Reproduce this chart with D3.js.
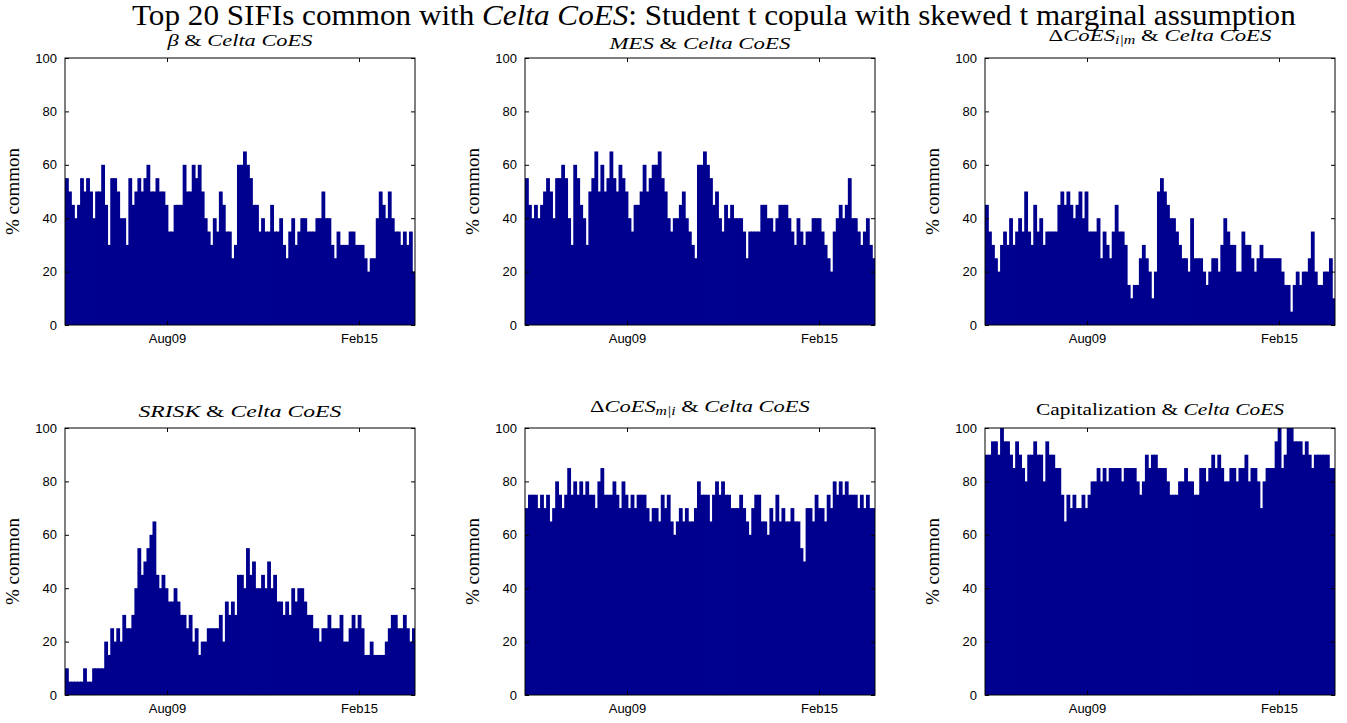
<!DOCTYPE html>
<html><head><meta charset="utf-8">
<script src="https://cdn.jsdelivr.net/npm/d3@7"></script>
<style>body{margin:0;background:#fff}svg{display:block}</style>
</head><body>
<svg id="c" width="1347" height="723"></svg>
<script>
// ---- data (% of top-20 SIFIs in common with Celta CoES) ----
const betaVals = [55,50,45,40,45,55,50,55,50,40,50,50,60,45,30,55,55,50,40,40,30,55,45,50,55,50,55,60,50,50,55,50,50,45,35,35,45,45,45,60,50,50,60,55,60,50,40,35,30,40,35,50,45,35,35,25,30,60,
 60,65,60,55,45,45,35,40,35,35,45,35,35,40,30,25,35,40,30,35,40,40,35,35,35,40,40,50,40,40,30,25,35,30,30,30,35,35,30,30,30,25,20,25,25,40,50,45,40,50,40,35,35,30,35,30,35,20];
const mesVals = [55,45,40,45,40,45,50,55,50,40,55,55,60,55,40,30,60,55,45,40,30,50,55,65,50,60,50,55,65,55,50,60,55,50,40,35,45,45,50,60,50,55,60,60,65,55,50,40,35,40,40,45,50,40,35,30,25,60,
 60,65,60,55,45,50,40,35,45,40,45,40,40,40,35,25,35,35,35,35,45,45,40,40,35,40,45,45,45,40,35,30,40,35,30,35,35,40,40,40,35,30,25,20,35,40,45,40,45,55,40,40,35,30,35,40,30,25];
const dcoesImVals = [45,35,30,25,20,30,35,30,40,30,35,40,35,50,35,30,45,35,40,30,35,35,35,35,45,50,45,50,45,40,45,50,40,50,35,35,35,40,25,35,30,25,35,45,35,35,30,15,10,15,15,25,30,25,20,10,20,50,
 55,50,45,40,40,35,30,25,25,20,40,25,25,25,20,15,20,25,25,20,30,40,35,30,30,20,20,35,30,30,25,20,25,30,25,25,25,25,25,25,20,15,15,5,15,20,15,20,20,25,35,20,15,15,20,20,25,10];
const sriskVals = [10,5,5,5,5,5,10,5,5,10,10,10,10,20,15,25,20,25,20,30,25,25,30,40,55,45,50,55,60,65,45,40,45,40,35,35,40,35,30,30,25,30,20,25,15,20,20,25,25,25,25,30,20,35,30,35,30,45,
 45,40,55,45,50,40,40,45,40,50,40,45,35,35,30,35,30,40,35,40,40,35,30,30,25,25,20,25,25,30,25,25,25,30,20,20,25,30,25,30,25,15,15,20,15,15,15,15,20,25,30,30,25,25,30,25,20,25];
const dcoesMiVals = [70,75,75,75,70,75,70,75,65,70,80,75,70,75,85,75,80,75,80,75,80,75,75,70,80,85,75,75,75,80,75,70,80,75,70,75,70,75,75,75,70,65,70,70,65,75,70,75,65,60,65,70,65,70,65,65,70,80,
 75,75,75,65,75,80,75,80,75,75,70,70,70,75,70,65,60,70,75,75,65,65,60,70,65,75,65,70,65,65,70,65,65,55,50,70,70,65,75,70,70,65,75,70,80,75,80,75,80,75,75,75,70,75,70,75,70,70];
const capVals = [90,90,95,95,90,100,95,95,90,85,95,90,85,80,90,90,95,90,90,80,95,90,90,85,85,75,65,75,70,75,70,70,75,70,75,80,80,85,80,85,80,85,85,85,85,80,85,85,85,85,80,75,80,90,85,90,90,85,
 85,85,80,75,75,75,80,80,85,80,80,75,75,85,85,80,85,90,85,90,85,80,80,85,85,80,85,85,90,80,85,85,80,70,80,85,85,85,95,100,85,90,100,100,95,95,95,90,95,90,85,90,90,90,90,90,85,85];

const yTicks = [0,20,40,60,80,100];
const xTickDates = [new Date(2009,7,1), new Date(2015,1,1)];
const xTickLabels = ["Aug09","Feb15"];
const timeDomain = [new Date(2006,7,29), new Date(2016,8,9)];

const mainTitle = [{t:"Top 20 SIFIs common with "},{t:"Celta CoES",i:1},{t:": Student t copula with skewed t marginal assumption"}];
const panels = [
  {vals:betaVals, title:[{t:"β",i:1},{t:" & "},{t:"Celta CoES",i:1}], ty:46, tw:145},
  {vals:mesVals, title:[{t:"MES",i:1},{t:" & "},{t:"Celta CoES",i:1}], ty:49, tw:181},
  {vals:dcoesImVals, title:[{t:"Δ"},{t:"CoES",i:1},{t:"i|m",i:1,sub:1},{t:" & "},{t:"Celta CoES",i:1}], ty:41, tw:223},
  {vals:sriskVals, title:[{t:"SRISK",i:1},{t:" & "},{t:"Celta CoES",i:1}], ty:417, tw:203},
  {vals:dcoesMiVals, title:[{t:"Δ"},{t:"CoES",i:1},{t:"m|i",i:1,sub:1},{t:" & "},{t:"Celta CoES",i:1}], ty:412, tw:220},
  {vals:capVals, title:[{t:"Capitalization"},{t:" & "},{t:"Celta CoES",i:1}], ty:415, tw:248}
];

// ---- layout ----
const colX = [65,525,985], rowY = [58,428], pw = 350, ph = 267;
const svg = d3.select("#c");
const serif = "'Liberation Serif','DejaVu Serif',serif";
const sans = "'Liberation Sans',Arial,sans-serif";
const barColor = "#00008f";

function richText(parts, size, cx, by, targetW) {
  const g = svg.append("g");
  const t = g.append("text").attr("font-family", serif).attr("font-size", size).attr("fill","#000")
    .attr("x",0).attr("y",0);
  parts.forEach(p => {
    const s = t.append("tspan").text(p.t);
    if (p.i) s.attr("font-style","italic");
    if (p.sub) s.attr("font-size", size*0.7).attr("baseline-shift","-25%");
  });
  const w = t.node().getComputedTextLength();
  const sx = targetW ? targetW / w : 1;
  t.attr("x", -w/2);
  g.attr("transform", `translate(${cx},${by}) scale(${sx},1)`);
  return t;
}

richText(mainTitle, 29, 714, 25, 1164);

panels.forEach((p, idx) => {
  const ox = colX[idx%3], oy = rowY[Math.floor(idx/3)];
  const g = svg.append("g").attr("transform",`translate(${ox},${oy})`);
  const xb = d3.scaleBand().domain(d3.range(p.vals.length)).range([0,pw]).paddingInner(0).paddingOuter(0);
  const xt = d3.scaleTime().domain(timeDomain).range([0,pw]);
  const y = d3.scaleLinear().domain([0,100]).range([ph,0]);

  g.selectAll("rect.bar").data(p.vals).join("rect").attr("class","bar")
    .attr("x",(d,i)=>xb(i)).attr("width",(d,i)=> i===p.vals.length-1 ? xb.bandwidth() : xb.bandwidth()+0.8)
    .attr("y",d=>y(d)).attr("height",d=>ph-y(d))
    .attr("fill",barColor);

  const tl = 4;
  const axStyle = sel => { sel.select(".domain").remove(); sel.selectAll("line").attr("stroke","#000"); sel.selectAll("text").attr("font-family",sans).attr("font-size",13).attr("fill","#000"); };
  g.append("g").call(d3.axisLeft(y).tickValues(yTicks).tickSizeInner(-tl).tickSizeOuter(0).tickPadding(8)).call(axStyle);
  g.append("g").attr("transform",`translate(${pw},0)`).call(d3.axisRight(y).tickValues(yTicks).tickSizeInner(-tl).tickSizeOuter(0).tickFormat("")).call(axStyle);
  g.append("g").attr("transform",`translate(0,${ph})`).call(d3.axisBottom(xt).tickValues(xTickDates).tickSizeInner(-tl).tickSizeOuter(0).tickPadding(9).tickFormat((d,i)=>xTickLabels[i])).call(axStyle);
  g.append("g").call(d3.axisTop(xt).tickValues(xTickDates).tickSizeInner(-tl).tickSizeOuter(0).tickFormat("")).call(axStyle);
  g.append("rect").attr("width",pw).attr("height",ph).attr("fill","none").attr("stroke","#000").attr("stroke-width",1);

  richText(p.title, 17, ox+pw/2, p.ty, p.tw);
  svg.append("text").attr("font-family",serif).attr("font-size",19).attr("fill","#000")
    .attr("transform",`translate(${ox-46},${oy+ph/2}) rotate(-90)`).attr("text-anchor","middle").text("% common");
});
</script>
</body></html>
